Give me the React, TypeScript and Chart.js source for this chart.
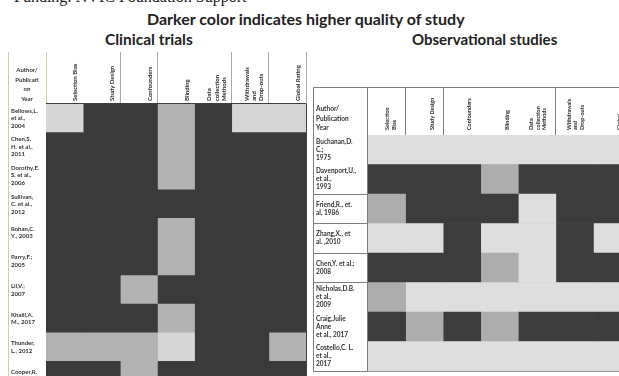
import React, { useEffect, useRef } from "react";
import { Chart, registerables } from "chart.js";

Chart.register(...registerables);

// ---------- Clinical trials ----------
const trialStudies: (string | string[])[] = [
  ["Bellows,L.", "et al.,", "2004"],
  ["Chen,S.", "H. et al.,", "2011"],
  ["Dorothy,E.", "S. et al.,", "2006"],
  ["Sullivan,", "C. et al.,", "2012"],
  ["Rohan,C.", "Y., 2003"],
  ["Parry,F.;", "2005"],
  ["Lil,V.;", "2007"],
  ["Khalil,A.", "M., 2017"],
  ["Thunder,", "L., 2012"],
  ["Cooper,R.", "2011"],
];
const trialCriteria: (string | string[])[] = [
  "Selection Bias",
  "Study Design",
  "Confounders",
  "Blinding",
  ["Data", "collection", "Methods"],
  ["Withdrawals", "and", "Drop-outs"],
  "Global Rating",
];
// quality score: 3 = strong (dark), 2 = moderate (mid grey), 1 = weak (light)
const trialSelection = [1, 3, 3, 3, 3, 3, 3, 3, 2, 3];
const trialDesign = [3, 3, 3, 3, 3, 3, 3, 3, 2, 3];
const trialConfounders = [3, 3, 3, 3, 3, 3, 2, 3, 2, 2];
const trialBlinding = [2, 2, 2, 3, 2, 2, 3, 2, 1, 3];
const trialData = [3, 3, 3, 3, 3, 3, 3, 3, 3, 3];
const trialWithdrawals = [1, 3, 3, 3, 3, 3, 3, 3, 3, 3];
const trialGlobal = [1, 3, 3, 3, 3, 3, 3, 3, 2, 3];

// ---------- Observational studies ----------
const obsStudies: (string | string[])[] = [
  ["Buchanan,D.", "C.;", "1975"],
  ["Davenport,U.,", "et al.,", "1993"],
  ["Friend,R., et.", "al, 1986"],
  ["Zhang,X., et", "al. ,2010"],
  ["Chen,Y. et al.;", "2008"],
  ["Nicholas,D.B.", "et al.,", "2009"],
  ["Craig,Julie", "Anne", "et al., 2017"],
  ["Costello,C. L.", "et al.,", "2017"],
];
const obsCriteria: (string | string[])[] = [
  ["Selection", "Bias"],
  "Study Design",
  "Confounders",
  "Blinding",
  ["Data", "collection", "Methods"],
  ["Withdrawals", "and", "Drop-outs"],
  "Global",
];
const obsSelection = [1, 3, 2, 1, 3, 2, 3, 1];
const obsDesign = [1, 3, 3, 1, 3, 1, 2, 1];
const obsConfounders = [1, 3, 3, 3, 3, 1, 3, 1];
const obsBlinding = [1, 2, 3, 1, 2, 1, 2, 1];
const obsData = [1, 3, 1, 1, 1, 1, 3, 1];
const obsWithdrawals = [1, 3, 3, 3, 3, 1, 3, 1];
const obsGlobal = [1, 3, 3, 1, 3, 1, 3, 1];

type Spec = {
  studies: (string | string[])[];
  criteria: (string | string[])[];
  series: number[][];
  palette: Record<number, string>;
  left: number;
  top: number;
  width: number;
  height: number;
  labelW: number;
  headerH: number;
  labelOffset: number;
  headPad: number;
  headFont: number;
  rowFont: number;
  gridColor: (i: number) => string;
  headTickColor: (i: number) => string;
  rowColor: (i: number) => string;
  rowTickColor: (i: number) => string;
  rowTicks: boolean;
  frame: (chart: any) => void;
};

function HeatTable({ spec }: { spec: Spec }) {
  const ref = useRef<HTMLCanvasElement>(null);
  useEffect(() => {
    const s = spec;
    const nCols = s.criteria.length;
    const nRows = s.studies.length;
    const chart = new Chart(ref.current as HTMLCanvasElement, {
      type: "bar",
      data: {
        labels: s.studies as any,
        datasets: s.series.map((scores, c) => ({
          label: ([] as string[]).concat(s.criteria[c] as any).join(" "),
          data: scores.map(() => 1),
          backgroundColor: scores.map((v) => s.palette[v]),
          borderWidth: 0,
          barPercentage: 1,
          categoryPercentage: 1,
        })),
      },
      options: {
        indexAxis: "y",
        responsive: false,
        animation: false,
        events: [],
        layout: { autoPadding: false, padding: { left: 3, right: 1, top: 0, bottom: 1 } } as any,
        plugins: {
          legend: { display: false },
          tooltip: { enabled: false },
          title: { display: false },
        },
        scales: {
          x: {
            type: "linear",
            position: "top",
            stacked: true,
            min: 0,
            max: nCols,
            z: 1,
            afterBuildTicks: (sc: any) => {
              sc.ticks = s.criteria.map((_, i) => ({ value: i + 0.5 }));
            },
            afterFit: (sc: any) => {
              sc.height = s.headerH;
              sc.paddingLeft = 0;
              sc.paddingRight = 0;
            },
            border: { display: false },
            grid: {
              offset: true,
              drawTicks: true,
              tickLength: s.headerH,
              lineWidth: 1,
              color: (ctx: any) => s.gridColor(ctx.type === "tick" ? ctx.index : nCols),
              tickColor: (ctx: any) => s.headTickColor(ctx.type === "tick" ? ctx.index : nCols),
            },
            ticks: {
              autoSkip: false,
              minRotation: 90,
              maxRotation: 90,
              padding: s.headPad - s.headerH,
              labelOffset: s.labelOffset,
              color: "#2b2b2b",
              font: { family: "Lato", size: s.headFont, weight: "bold", lineHeight: 1.2 },
              callback: (_v: any, i: number) => s.criteria[i] as any,
            },
          },
          y: {
            type: "category",
            stacked: true,
            offset: true,
            z: 1,
            afterFit: (sc: any) => {
              sc.width = s.labelW - 3;
              sc.paddingTop = 0;
              sc.paddingBottom = 0;
            },
            border: { display: false },
            grid: {
              offset: true,
              drawTicks: s.rowTicks,
              tickLength: s.labelW,
              lineWidth: 1,
              color: (ctx: any) => s.rowColor(ctx.type === "tick" ? ctx.index : nRows),
              tickColor: (ctx: any) => s.rowTickColor(ctx.type === "tick" ? ctx.index : nRows),
            },
            ticks: {
              autoSkip: false,
              crossAlign: "far",
              padding: 0,
              color: "#333333",
              font: { family: "Lato", size: s.rowFont, weight: "bold", lineHeight: 1.25 },
            },
          },
        },
      } as any,
      plugins: [
        {
          id: "tableFrame",
          afterDraw: (c: any) => s.frame(c),
        },
      ],
    });
    return () => chart.destroy();
  }, [spec]);
  return (
    <canvas
      ref={ref}
      width={spec.width}
      height={spec.height}
      style={{ position: "absolute", left: spec.left, top: spec.top }}
    />
  );
}

const trialSpec: Spec = {
  studies: trialStudies,
  criteria: trialCriteria,
  series: [trialSelection, trialDesign, trialConfounders, trialBlinding, trialData, trialWithdrawals, trialGlobal],
  palette: { 1: "#d6d6d6", 2: "#b2b2b2", 3: "#3a3a3a" },
  left: 8,
  top: 52,
  width: 299,
  height: 339,
  labelW: 38,
  headerH: 52,
  labelOffset: 18,
  headPad: 3,
  headFont: 6,
  rowFont: 6,
  gridColor: (i) => (i === 0 ? "#c4d3a6" : "rgba(28,28,28,0.85)"),
  headTickColor: (i) => (i === 0 ? "#c4d3a6" : [2, 3, 5, 6, 7].includes(i) ? "#a8a8a8" : "rgba(0,0,0,0)"),
  rowColor: () => "rgba(28,28,28,0.85)",
  rowTickColor: () => "rgba(0,0,0,0)",
  rowTicks: false,
  frame: (chart) => {
    const { ctx, chartArea: a } = chart;
    ctx.save();
    ctx.strokeStyle = "#c4d3a6";
    ctx.lineWidth = 1;
    ctx.beginPath();
    ctx.moveTo(0.5, 0);
    ctx.lineTo(0.5, a.bottom);
    ctx.stroke();
    ctx.restore();
  },
};

const obsSpec: Spec = {
  studies: obsStudies,
  criteria: obsCriteria,
  series: [obsSelection, obsDesign, obsConfounders, obsBlinding, obsData, obsWithdrawals, obsGlobal],
  palette: { 1: "#dedede", 2: "#adadad", 3: "#3c3c3c" },
  left: 313,
  top: 87,
  width: 319,
  height: 285,
  labelW: 55,
  headerH: 48,
  labelOffset: 14,
  headPad: 5,
  headFont: 5.5,
  rowFont: 6.5,
  gridColor: (i) => ([0, 1, 2, 5, 7].includes(i) ? "#857a7a" : "rgba(0,0,0,0)"),
  headTickColor: (i) => ([0, 1, 2, 5, 7].includes(i) ? "#857a7a" : "rgba(0,0,0,0)"),
  rowColor: () => "rgba(125,112,112,0.75)",
  rowTickColor: (i) => ([2, 3, 4, 5, 8].includes(i) ? "#857a7a" : "rgba(0,0,0,0)"),
  rowTicks: true,
  frame: (chart) => {
    const { ctx, chartArea: a } = chart;
    ctx.save();
    ctx.strokeStyle = "#857a7a";
    ctx.lineWidth = 1;
    ctx.beginPath();
    ctx.moveTo(0.5, a.bottom);
    ctx.lineTo(0.5, 0.5);
    ctx.lineTo(a.right, 0.5);
    ctx.stroke();
    ctx.restore();
  },
};

export default function App() {
  return (
    <div
      style={{
        position: "absolute",
        left: 0,
        top: 0,
        width: 619,
        height: 376,
        overflow: "hidden",
        background: "#ffffff",
        fontFamily: "Lato, 'Open Sans', sans-serif",
        color: "#222",
      }}
    >
      <div
        style={{
          position: "absolute",
          left: 14,
          top: -12,
          font: "16px 'Liberation Serif', serif",
          whiteSpace: "nowrap",
          color: "#222",
        }}
      >
        Funding: NVIC Foundation Support
      </div>
      <div
        style={{
          position: "absolute",
          left: 147,
          top: 9,
          font: "bold 16px Lato, sans-serif",
          whiteSpace: "nowrap",
        }}
      >
        Darker color indicates higher quality of study
      </div>
      <div
        style={{
          position: "absolute",
          left: 105,
          top: 30,
          font: "bold 15.5px Lato, sans-serif",
          whiteSpace: "nowrap",
        }}
      >
        Clinical trials
      </div>
      <div
        style={{
          position: "absolute",
          left: 412,
          top: 30,
          font: "bold 15px Lato, sans-serif",
          whiteSpace: "nowrap",
        }}
      >
        Observational studies
      </div>
      <HeatTable spec={trialSpec} />
      <HeatTable spec={obsSpec} />
      <div
        style={{
          position: "absolute",
          left: 8,
          top: 65,
          width: 38,
          textAlign: "center",
          font: "bold 6px Lato, sans-serif",
          lineHeight: "9.5px",
          color: "#333",
        }}
      >
        Author/
        <br />
        Publicati
        <br />
        on
        <br />
        Year
      </div>
      <div
        style={{
          position: "absolute",
          left: 316,
          top: 104,
          width: 50,
          textAlign: "left",
          font: "bold 6.5px Lato, sans-serif",
          lineHeight: "9.5px",
          color: "#333",
        }}
      >
        Author/
        <br />
        Publication
        <br />
        Year
      </div>
    </div>
  );
}
